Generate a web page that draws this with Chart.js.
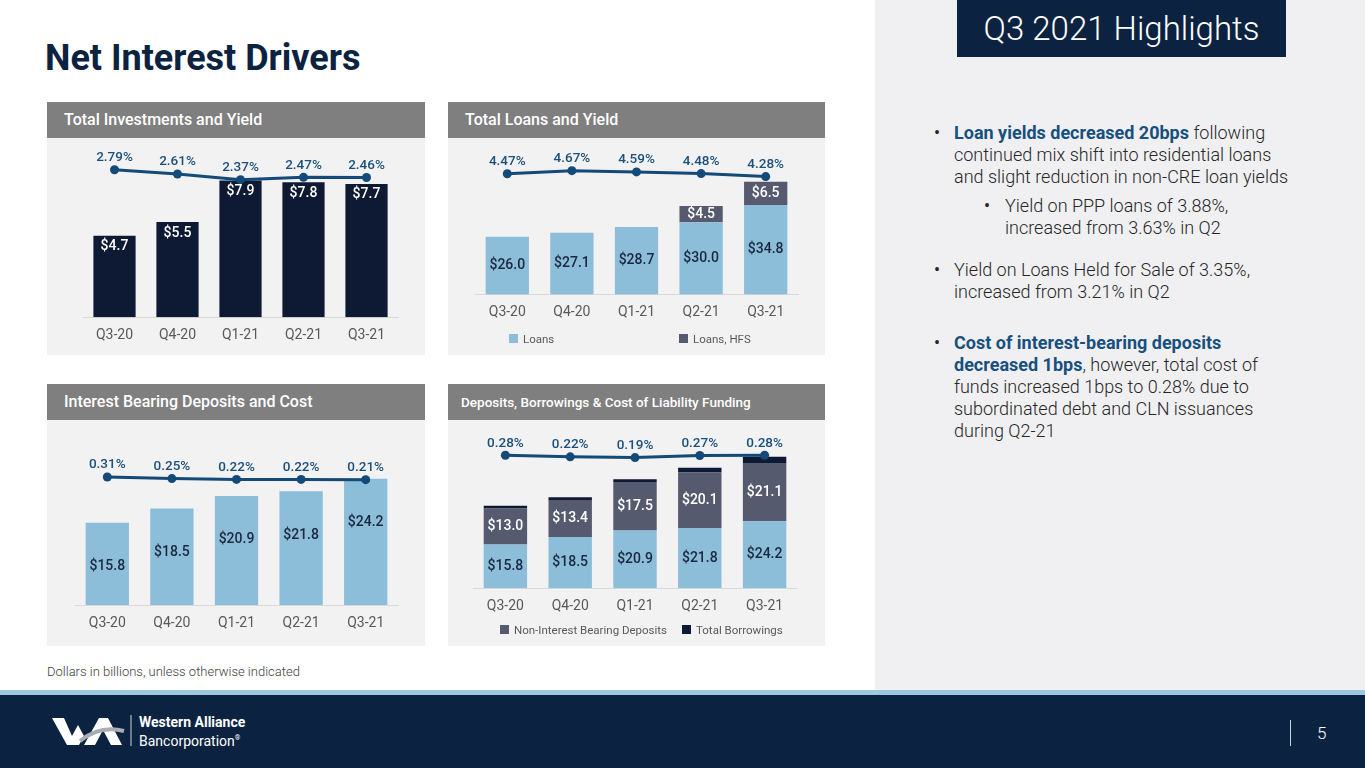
<!DOCTYPE html>
<html>
<head>
<meta charset="utf-8">
<script src="https://cdn.jsdelivr.net/npm/chart.js@4.4.1/dist/chart.umd.min.js"></script>
<style>
  body { margin: 0; width: 1365px; height: 768px; position: relative; overflow: hidden; background: #fff; font-family: Roboto, "Noto Sans", sans-serif; }
  .abs { position: absolute; }
  .head { position: absolute; height: 36px; line-height: 36px; background: #7f7f7f; color: #fff; font-size: 16px; font-weight: 500; padding-left: 17px; box-sizing: border-box; }
  .panel { position: absolute; background: #f2f2f2; }
  .legend { position: absolute; font-size: 11.5px; color: #595959; white-space: nowrap; }
  .legend i { display: inline-block; width: 9px; height: 9px; margin-right: 5px; }
  .txt { position: absolute; font-size: 18px; font-weight: 300; line-height: 22px; color: #262626; white-space: nowrap; }
  .txt b { color: #17507e; font-weight: 700; }
  .dot { position: absolute; font-size: 18px; line-height: 22px; color: #262626; }
</style>
</head>
<body>

<div class="abs" style="left:45px;top:36px;font-size:36px;font-weight:700;color:#0b2340;line-height:44px;">Net Interest Drivers</div>

<div class="abs" style="left:875px;top:0;width:490px;height:690px;background:#f0f0f2;"></div>
<div class="abs" style="left:957px;top:0;width:329px;height:57px;background:#0b2340;color:#fff;font-size:33px;font-weight:300;line-height:57px;text-align:center;">Q3 2021 Highlights</div>

<div class="dot" style="left:934px;top:122px;">•</div>
<div class="txt" style="left:954px;top:122px;"><b>Loan yields decreased 20bps</b> following<br>continued mix shift into residential loans<br>and slight reduction in non-CRE loan yields</div>
<div class="dot" style="left:984px;top:195px;">•</div>
<div class="txt" style="left:1005px;top:195px;">Yield on PPP loans of 3.88%,<br>increased from 3.63% in Q2</div>
<div class="dot" style="left:934px;top:259px;">•</div>
<div class="txt" style="left:954px;top:259px;">Yield on Loans Held for Sale of 3.35%,<br>increased from 3.21% in Q2</div>
<div class="dot" style="left:934px;top:332px;">•</div>
<div class="txt" style="left:954px;top:332px;"><b>Cost of interest-bearing deposits<br>decreased 1bps</b>, however, total cost of<br>funds increased 1bps to 0.28% due to<br>subordinated debt and CLN issuances<br>during Q2-21</div>

<div class="head" style="left:47px;top:102px;width:378px;">Total Investments and Yield</div>
<div class="panel" style="left:47px;top:138px;width:378px;height:217px;"><canvas id="invChart"></canvas></div>

<div class="head" style="left:448px;top:102px;width:377px;">Total Loans and Yield</div>
<div class="panel" style="left:448px;top:138px;width:377px;height:217px;"><canvas id="loanChart"></canvas></div>
<div class="legend" style="left:509px;top:332px;"><i style="background:#8cbdd9"></i>Loans</div>
<div class="legend" style="left:679px;top:332px;"><i style="background:#555a6e"></i>Loans, HFS</div>

<div class="head" style="left:47px;top:384px;width:378px;">Interest Bearing Deposits and Cost</div>
<div class="panel" style="left:47px;top:420px;width:378px;height:226px;"><canvas id="depChart"></canvas></div>

<div class="head" style="left:448px;top:384px;width:377px;font-size:13.5px;padding-left:13px;">Deposits, Borrowings &amp; Cost of Liability Funding</div>
<div class="panel" style="left:448px;top:420px;width:377px;height:226px;"><canvas id="fundChart"></canvas></div>
<div class="legend" style="left:500px;top:623px;"><i style="background:#555a6e"></i>Non-Interest Bearing Deposits</div>
<div class="legend" style="left:682px;top:623px;"><i style="background:#0e1a33"></i>Total Borrowings</div>

<div class="abs" style="left:47px;top:664px;font-size:13px;font-weight:300;color:#404040;">Dollars in billions, unless otherwise indicated</div>

<div class="abs" style="left:0;top:690px;width:1365px;height:5px;background:#9cc8e0;"></div>
<div class="abs" style="left:0;top:695px;width:1365px;height:73px;background:#0b2340;"></div>
<svg class="abs" style="left:0;top:695px;" width="140" height="73">
  <polygon points="52,23 64,23 72,41 78,30 84,41 79,50 67,50" fill="#fff"/>
  <polygon points="84,50 99,23 108,23 122,50 111,50 103,35 95,50" fill="#fff"/>
  <path d="M80 46 Q100 30 124 36" stroke="#a7adb5" stroke-width="4" fill="none"/>
  <line x1="131" y1="20" x2="131" y2="51" stroke="#cfd5dc" stroke-width="1"/>
</svg>
<div class="abs" style="left:139px;top:714px;font-size:14px;font-weight:700;color:#fff;line-height:17px;">Western Alliance</div>
<div class="abs" style="left:139px;top:730px;font-size:14px;font-weight:400;color:#fff;line-height:17px;">Bancorporation<sup style="font-size:7px;">®</sup></div>
<div class="abs" style="left:1290px;top:720px;width:1px;height:26px;background:#cfd5dc;"></div>
<div class="abs" style="left:1317px;top:721px;font-size:17px;font-weight:300;color:#fff;line-height:24px;">5</div>

<script>
const quarters = ["Q3-20", "Q4-20", "Q1-21", "Q2-21", "Q3-21"];

const investments = [4.7, 5.5, 7.9, 7.8, 7.7];
const investmentYield = [2.79, 2.61, 2.37, 2.47, 2.46];

const loans = [26.0, 27.1, 28.7, 30.0, 34.8];
const loansHfs = [null, null, null, 4.5, 6.5];
const loanYield = [4.47, 4.67, 4.59, 4.48, 4.28];

const ibDeposits = [15.8, 18.5, 20.9, 21.8, 24.2];
const ibDepositCost = [0.31, 0.25, 0.22, 0.22, 0.21];

const nonIbDeposits = [13.0, 13.4, 17.5, 20.1, 21.1];
const borrowings = [1.0, 1.0, 1.0, 1.7, 2.3];
const fundingCost = [0.28, 0.22, 0.19, 0.27, 0.28];

const NAVY = "#0e1a33";
const LIGHT_BLUE = "#8cbdd9";
const SLATE = "#555a6e";
const LINE_BLUE = "#144a77";

function money(v) {
  return "$" + v.toFixed(1);
}

function pct(v) {
  return v.toFixed(2) + "%";
}

// draws the value labels, no datalabels plugin available offline
const valueLabels = {
  id: "valueLabels",
  afterDatasetsDraw: function (chart) {
    const ctx = chart.ctx;
    const bottom = chart.chartArea.bottom;
    chart.data.datasets.forEach(function (ds, i) {
      if (!ds.lbl) return;
      const meta = chart.getDatasetMeta(i);
      meta.data.forEach(function (el, j) {
        const v = ds.data[j];
        if (v === null || v === undefined) return;
        let y;
        if (ds.lbl.pos === "above") {
          y = el.y - 12;
        } else if (ds.lbl.pos === "top") {
          y = el.y + ds.lbl.dy;
        } else {
          // base can sit below the visible area when the axis doesn't start at 0
          y = (el.y + Math.min(el.base, bottom)) / 2;
        }
        ctx.save();
        ctx.font = ds.lbl.font || "500 14px Roboto";
        ctx.fillStyle = ds.lbl.color;
        ctx.textAlign = "center";
        ctx.textBaseline = "middle";
        ctx.fillText(ds.lbl.fmt(v), el.x, y);
        ctx.restore();
      });
    });
  }
};

function lineSet(data) {
  return {
    type: "line",
    data: data,
    yAxisID: "y1",
    borderColor: LINE_BLUE,
    backgroundColor: LINE_BLUE,
    borderWidth: 3,
    pointRadius: 4.5,
    pointBackgroundColor: LINE_BLUE,
    pointBorderWidth: 0,
    clip: false,
    order: 0,
    lbl: { pos: "above", color: "#1b4f7c", font: "500 13.5px Roboto", fmt: pct }
  };
}

function barSet(data, color, lbl) {
  return {
    type: "bar",
    data: data,
    yAxisID: "y",
    backgroundColor: color,
    barPercentage: 0.67,
    categoryPercentage: 1,
    order: 1,
    lbl: lbl
  };
}

function makeChart(id, datasets, pad, yMin, yMax, y1Min, y1Max) {
  return new Chart(document.getElementById(id), {
    type: "bar",
    data: { labels: quarters, datasets: datasets },
    options: {
      responsive: true,
      maintainAspectRatio: false,
      animation: false,
      layout: { padding: pad },
      plugins: { legend: { display: false }, tooltip: { enabled: false } },
      scales: {
        x: {
          stacked: true,
          grid: { display: false, drawTicks: false, tickLength: 0 },
          border: { display: true, color: "#d9d9d9", width: 1 },
          ticks: { color: "#595959", font: { family: "Roboto", size: 14 }, padding: 10 }
        },
        y: { display: false, stacked: true, min: yMin, max: yMax },
        y1: { display: false, min: y1Min, max: y1Max }
      }
    },
    plugins: [valueLabels]
  });
}

makeChart("invChart", [
  lineSet(investmentYield),
  barSet(investments, NAVY, { pos: "top", dy: 11, color: "#fff", fmt: money })
], { left: 36, right: 27, top: 12, bottom: 1 }, 0, 9.66, -3.47, 3.63);

makeChart("loanChart", [
  lineSet(loanYield),
  barSet(loans, LIGHT_BLUE, { pos: "center", color: "#1a2740", fmt: money }),
  barSet(loansHfs, SLATE, { pos: "center", color: "#fff", fmt: money })
], { left: 27, right: 27, top: 12, bottom: 24 }, 10, 50.1, -3.45, 6.03);

makeChart("depChart", [
  lineSet(ibDepositCost),
  barSet(ibDeposits, LIGHT_BLUE, { pos: "top", dy: 44, color: "#1a2740", fmt: money })
], { left: 28, right: 27, top: 30, bottom: 4 }, 0, 29.7, -4.49, 1.32);

makeChart("fundChart", [
  lineSet(fundingCost),
  barSet(ibDeposits, LIGHT_BLUE, { pos: "center", color: "#1a2740", fmt: money }),
  barSet(nonIbDeposits, SLATE, { pos: "center", color: "#fff", fmt: money }),
  barSet(borrowings, NAVY, null)
], { left: 25, right: 28, top: 30, bottom: 21 }, 0, 50, -4.71, 0.476);
</script>
</body>
</html>
